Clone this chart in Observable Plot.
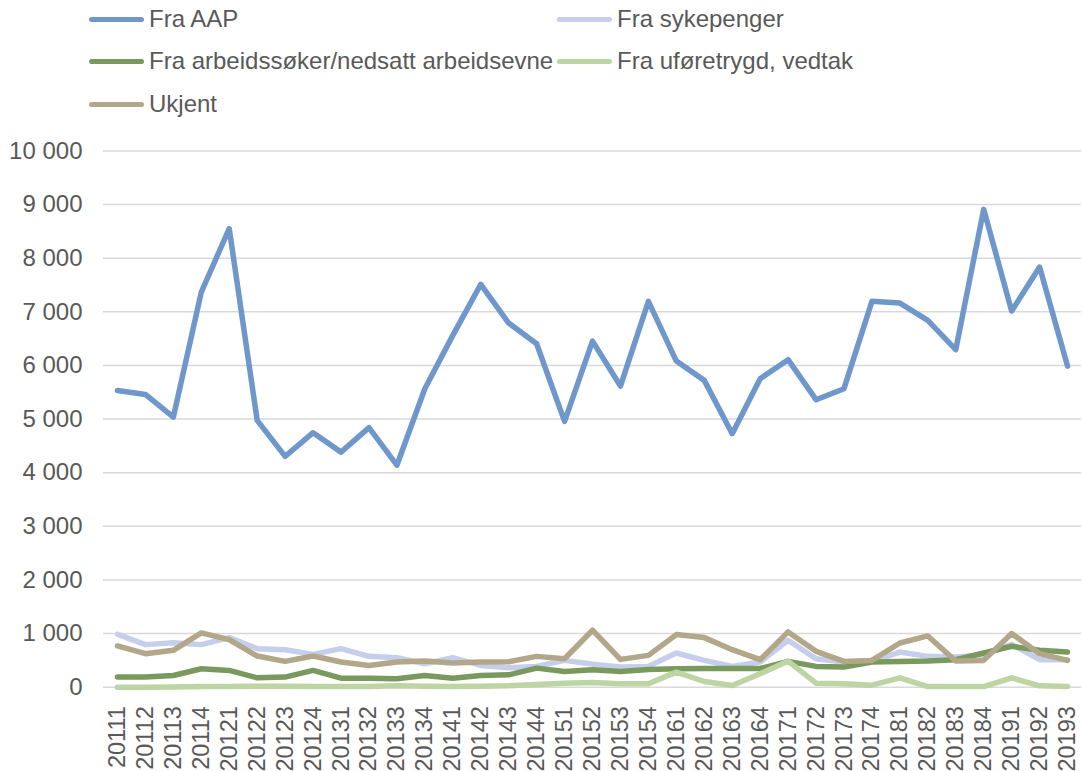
<!DOCTYPE html>
<html><head><meta charset="utf-8">
<script src="https://cdn.jsdelivr.net/npm/d3@7"></script>
<script src="https://cdn.jsdelivr.net/npm/@observablehq/plot@0.6"></script>
<style>
body{margin:0;background:#fff;}
#wrap{position:relative;width:1082px;height:771px;font-family:"Liberation Sans",Arial,sans-serif;color:#595959;overflow:hidden;}
#wrap > svg{position:absolute;left:0;top:0;}
.leg{position:absolute;display:flex;align-items:center;font-size:24px;line-height:28px;white-space:nowrap;}
.leg .sw{width:55px;height:5px;border-radius:3px;margin-right:5px;}
</style></head><body><div id="wrap"></div>
<script>
const quarters = ["20111","20112","20113","20114","20121","20122","20123","20124","20131","20132","20133","20134","20141","20142","20143","20144","20151","20152","20153","20154","20161","20162","20163","20164","20171","20172","20173","20174","20181","20182","20183","20184","20191","20192","20193"];
const seriesNames = ["Fra AAP","Fra sykepenger","Fra arbeidssøker/nedsatt arbeidsevne","Fra uføretrygd, vedtak","Ukjent"];
const seriesColors = ["#6f97cb","#c5cfec","#7a9a5d","#bcd5a2","#b3a78a"];
const fraAAP = [5535,5460,5037,7369,8552,4976,4304,4746,4384,4840,4140,5567,6561,7513,6791,6406,4957,6455,5616,7196,6082,5722,4728,5754,6108,5362,5567,7196,7164,6841,6295,8912,7015,7836,5989];
const fraSykepenger = [988,794,831,794,925,719,700,612,719,575,550,438,550,406,363,388,500,430,375,388,638,500,388,469,875,531,469,481,656,575,563,600,800,513,513];
const fraArbeidssoker = [188,188,219,344,313,175,188,313,169,169,156,219,169,219,231,356,294,325,294,331,344,350,350,350,481,388,375,469,481,488,513,638,763,688,656];
const fraUforetrygd = [0,0,6,13,13,19,19,13,13,13,25,19,13,19,25,50,75,88,63,63,281,106,31,250,488,75,63,38,175,13,13,13,175,25,13];
const ukjent = [769,625,688,1013,888,581,481,581,469,406,469,488,450,469,475,575,531,1063,519,594,981,925,700,513,1031,669,481,500,825,956,488,500,1000,625,500];
const yTicks = [0,1000,2000,3000,4000,5000,6000,7000,8000,9000,10000];

const allValues = [fraAAP, fraSykepenger, fraArbeidssoker, fraUforetrygd, ukjent];
const data = [];
seriesNames.forEach((s, i) => quarters.forEach((q, j) => data.push({s, q, v: allValues[i][j]})));

const fmt = d => d3.format(",")(d).replace(/,/g, " ");

const chart = Plot.plot({
  width: 1082,
  height: 771,
  marginLeft: 103,
  marginRight: 1,
  marginTop: 150.5,
  marginBottom: 84.3,
  style: {fontFamily: '"Liberation Sans", Arial, sans-serif', fontSize: "24px", color: "#595959", background: "#fff"},
  x: {type: "point", domain: quarters, padding: 0.5},
  y: {domain: [0, 10000]},
  color: {domain: seriesNames, range: seriesColors},
  marks: [
    Plot.gridY(yTicks, {stroke: "#d9d9d9", strokeOpacity: 1, strokeWidth: 1.5}),
    Plot.axisY(yTicks, {tickSize: 0, tickPadding: 21, tickFormat: fmt, fontSize: 24, fill: "#595959", label: null}),
    Plot.axisX({tickSize: 0, tickPadding: 19, tickRotate: -90, fontSize: 23.5, fill: "#595959", label: null}),
    Plot.line(data, {x: "q", y: "v", z: "s", stroke: "s", strokeWidth: 5.5, strokeLinejoin: "round", strokeLinecap: "round"})
  ]
});
const wrap = document.getElementById("wrap");
wrap.appendChild(chart);

const legendPos = [[89,19],[557,19],[89,61],[557,61],[89,104]];
seriesNames.forEach((s, i) => {
  const d = document.createElement("div");
  d.className = "leg";
  d.style.left = legendPos[i][0] + "px";
  d.style.top = (legendPos[i][1] - 14) + "px";
  const sw = document.createElement("div");
  sw.className = "sw";
  sw.style.background = seriesColors[i];
  d.appendChild(sw);
  d.appendChild(document.createTextNode(s));
  wrap.appendChild(d);
});
</script></body></html>
